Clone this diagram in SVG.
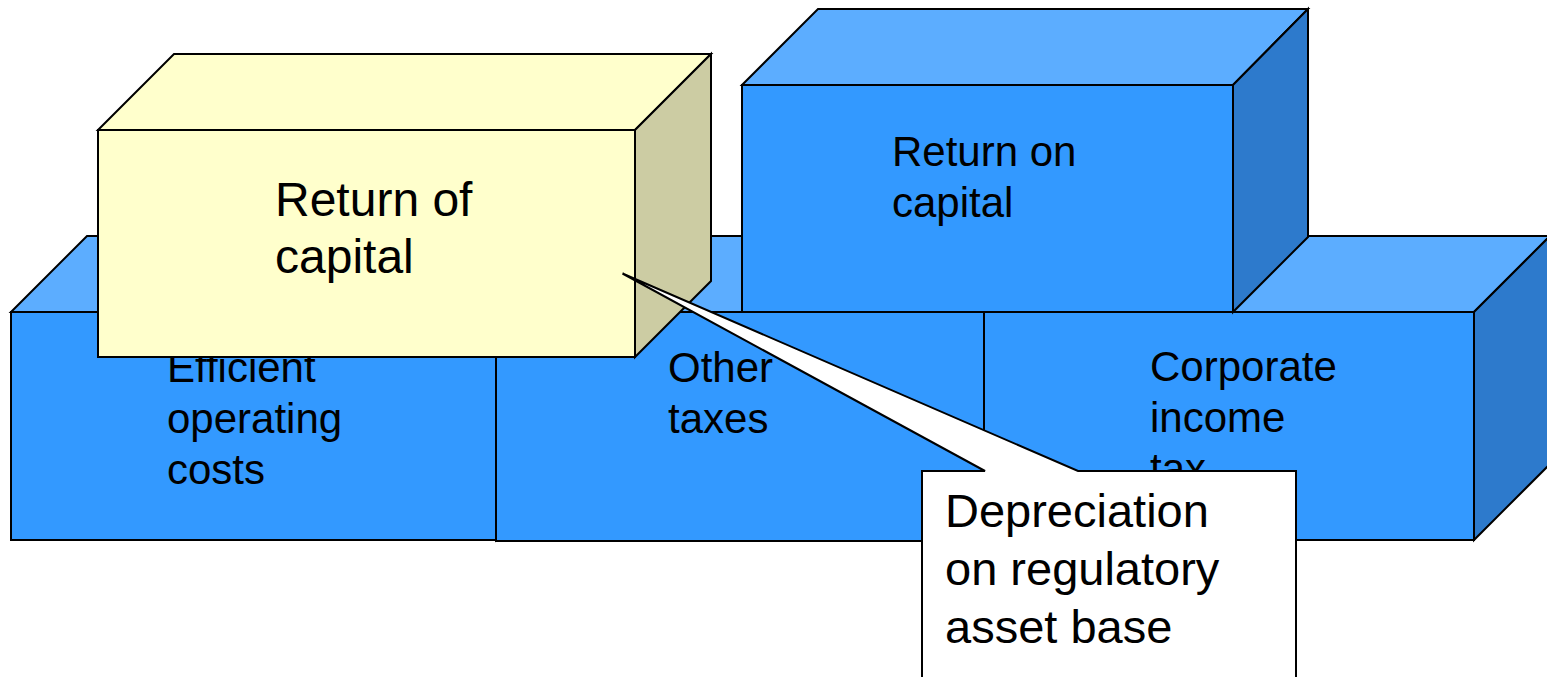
<svg xmlns="http://www.w3.org/2000/svg" width="1547" height="677" viewBox="0 0 1547 677">
<style>
  .edge { stroke: #000; stroke-width: 2; stroke-linejoin: miter; }
  .bf { fill: #3399FF; }
  .bt { fill: #5CADFF; }
  .br { fill: #2D7ACC; }
  .yf { fill: #FFFFCC; }
  .yt { fill: #FFFFCC; }
  .yr { fill: #CCCCA3; }
  .lbl { font-family: "Liberation Sans", Arial, sans-serif; fill: #000; }
</style>
<defs>
  <clipPath id="above-callout">
    <rect x="0" y="0" width="1547" height="471"/>
  </clipPath>
</defs>
<rect x="0" y="0" width="1547" height="677" fill="#FFFFFF"/>

<g id="efficient-operating-costs">
  <polygon class="bt edge" points="11,312 87,236 572,236 496,312"/>
  <polygon class="br edge" points="496,312 572,236 572,464 496,540"/>
  <rect class="bf edge" x="11" y="312" width="485" height="228"/>
  <text class="lbl" font-size="42" x="167" y="382">Efficient</text>
  <text class="lbl" font-size="42" x="167" y="433">operating</text>
  <text class="lbl" font-size="42" x="167" y="484">costs</text>
</g>

<g id="other-taxes">
  <polygon class="bt edge" points="496,312 572,236 1060,236 984,312"/>
  <polygon class="br edge" points="984,312 1060,236 1060,465 984,541"/>
  <rect class="bf edge" x="496" y="312" width="488" height="229"/>
  <text class="lbl" font-size="42" x="668" y="382">Other</text>
  <text class="lbl" font-size="42" x="668" y="433">taxes</text>
</g>

<g id="corporate-income-tax">
  <polygon class="bt edge" points="984,312 1060,236 1550,236 1474,312"/>
  <polygon class="br edge" points="1474,312 1550,236 1550,464 1474,540"/>
  <rect class="bf edge" x="984" y="312" width="490" height="228"/>
  <text class="lbl" font-size="42" x="1150" y="381">Corporate</text>
  <text class="lbl" font-size="42" x="1150" y="432">income</text>
  <text class="lbl" font-size="42" x="1150" y="483" clip-path="url(#above-callout)">tax</text>
</g>

<g id="return-on-capital">
  <polygon class="bt edge" points="742,85 818,9 1308,9 1233,85"/>
  <polygon class="br edge" points="1233,85 1308,9 1308,237 1233,312"/>
  <rect class="bf edge" x="742" y="85" width="491" height="227"/>
  <text class="lbl" font-size="42" x="892" y="166">Return on</text>
  <text class="lbl" font-size="42" x="892" y="217">capital</text>
</g>

<g id="return-of-capital">
  <polygon class="yt edge" points="98,130 174,54 711,54 635,130"/>
  <polygon class="yr edge" points="635,130 711,54 711,281 635,357"/>
  <rect class="yf edge" x="98" y="130" width="537" height="227"/>
  <text class="lbl" font-size="48" x="275" y="216">Return of</text>
  <text class="lbl" font-size="48" x="275" y="273">capital</text>
</g>

<g id="connectors">
  <g id="depreciation-callout">
    <path class="edge" fill="#FFFFFF" d="M922,471 L985,471 L622.5,273.5 L1078,471 L1296,471 L1296,700 L922,700 Z"/>
    <text class="lbl" font-size="47" x="945" y="527">Depreciation</text>
    <text class="lbl" font-size="47" x="945" y="585">on regulatory</text>
    <text class="lbl" font-size="47" x="945" y="643">asset base</text>
  </g>
</g>
</svg>
